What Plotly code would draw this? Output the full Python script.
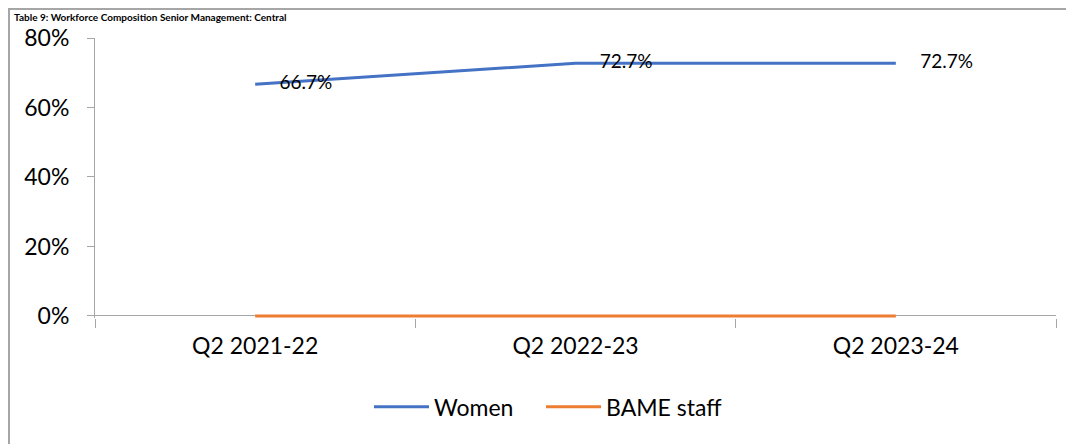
import plotly.graph_objects as go

quarters = ["Q2 2021-22", "Q2 2022-23", "Q2 2023-24"]
women = [0.667, 0.727, 0.727]
bame = [0.0, 0.0, 0.0]
y_ticks = [0, 0.2, 0.4, 0.6, 0.8]
title_text = "Table 9: Workforce Composition Senior Management: Central"

FONT = "Lato"
AXIS_GREY = "#a6a6a6"
W, H = 1074, 444
OFF = 8  # the page puts the figure 8px in from the top-left corner

# y range starts a touch below 0 so the 0% line isn't clipped in half
Y_MIN, Y_MAX = -0.006, 0.8
PX_PER_UNIT = (316 - 38) / 0.8
bottom_page = 316 - Y_MIN * PX_PER_UNIT

# plot area in figure pixels
L, R, T = 95 - OFF, W - (1056 - OFF), 38 - OFF
B = H - (bottom_page - OFF)
PW, PH = W - L - R, H - T - B


def px_x(px):
    # page pixel -> paper x
    return (px - OFF - L) / PW


def px_y(py):
    # page pixel -> paper y
    return (H - B - (py - OFF)) / PH


fig = go.Figure(
    data=[
        go.Scatter(
            x=quarters, y=women, name="Women", mode="lines+text",
            line=dict(width=3, color="#4472C4"),
            text=["     " + f"{v * 100:.1f}%" for v in women],
            textposition="middle right",
            textfont=dict(family=FONT, size=19, color="#000000"),
            cliponaxis=False, legendwidth=102,
        ),
        go.Scatter(
            x=quarters, y=bame, name="BAME staff", mode="lines",
            line=dict(width=3, color="#ED7D31"),
            cliponaxis=False, legendwidth=125,
        ),
    ],
    layout=go.Layout(
        width=W, height=H,
        margin=dict(l=L, r=R, t=T, b=B),
        paper_bgcolor="white", plot_bgcolor="white",
        font=dict(family=FONT, size=23, color="#000000"),
        showlegend=True,
        legend=dict(
            orientation="h", x=px_x(369), xanchor="left",
            y=px_y(407), yanchor="middle",
            font=dict(family=FONT, size=23), itemwidth=55,
            traceorder="normal",
        ),
        xaxis=dict(
            type="category", range=[-0.5, 2.5], tickson="boundaries",
            showline=False,
            ticks="outside", ticklen=9, tickcolor=AXIS_GREY,
            showgrid=False, zeroline=False, ticklabelstandoff=12,
            layer="below traces",
        ),
        yaxis=dict(
            range=[Y_MIN, Y_MAX], tickvals=y_ticks, tickformat=".0%",
            showline=True, linecolor=AXIS_GREY, linewidth=1,
            ticks="outside", ticklen=7, tickcolor=AXIS_GREY,
            showgrid=False, ticklabelstandoff=13,
            zeroline=True, zerolinecolor=AXIS_GREY, zerolinewidth=1,
            layer="below traces",
        ),
        shapes=[dict(
            type="rect", xref="paper", yref="paper",
            x0=px_x(9), x1=px_x(1100), y0=px_y(470), y1=px_y(9),
            line=dict(color=AXIS_GREY, width=2), layer="below",
        )],
        annotations=[dict(
            text="<b>" + title_text + "</b>", xref="paper", yref="paper",
            x=px_x(12), xanchor="left", y=px_y(9), yanchor="top",
            showarrow=False, font=dict(family=FONT, size=10),
        )],
    ),
)

fig.write_html("out.html")
